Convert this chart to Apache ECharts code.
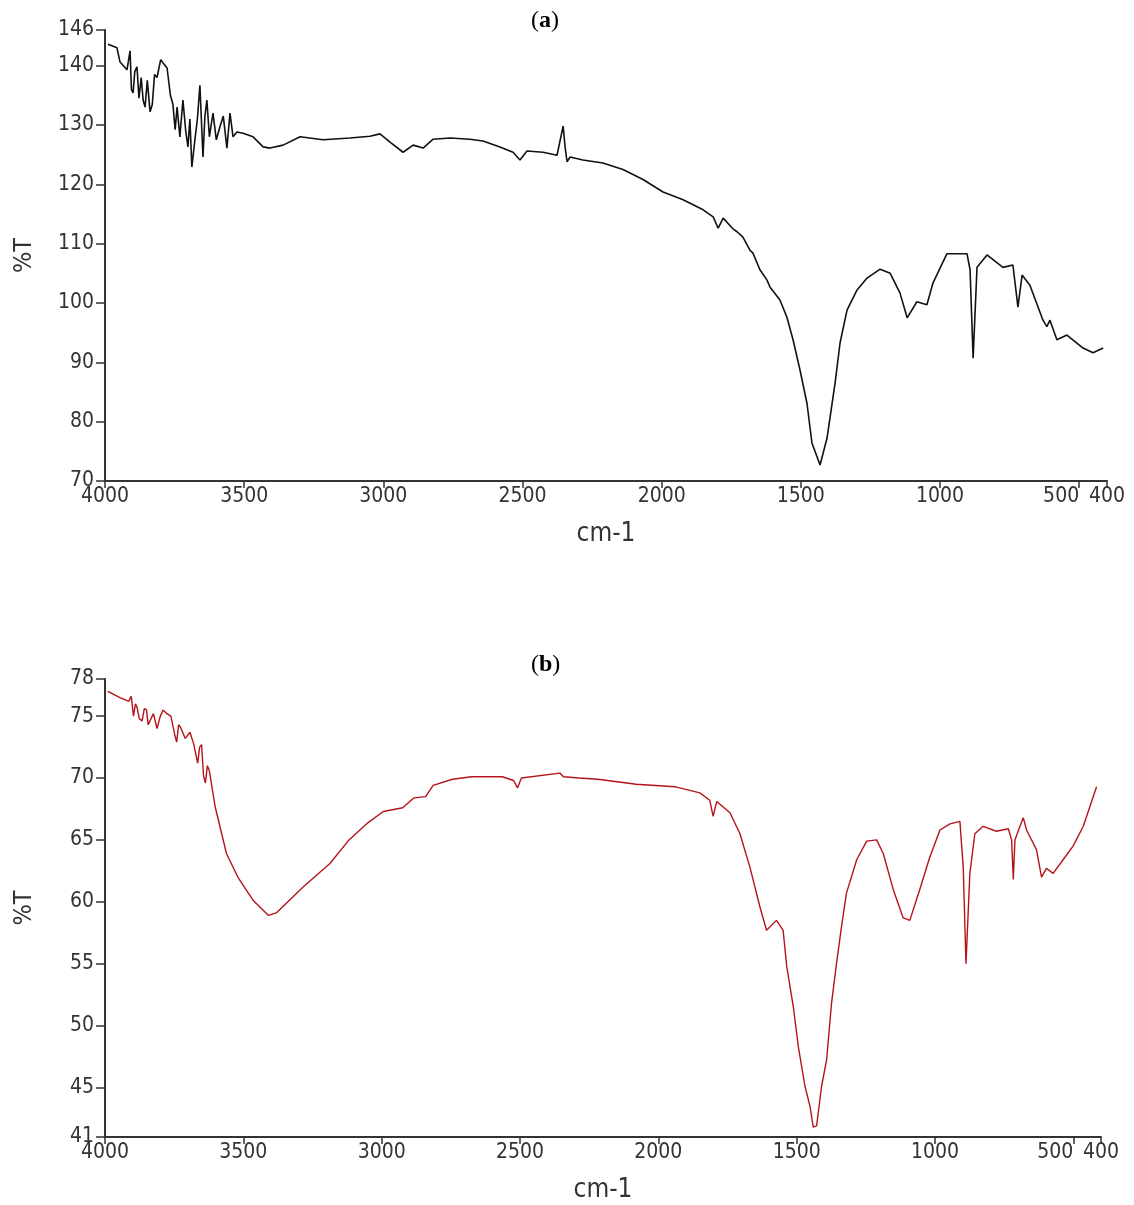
<!DOCTYPE html>
<html><head><meta charset="utf-8">
<script src="https://cdn.jsdelivr.net/npm/echarts@6/dist/echarts.min.js"></script>
<style>html,body{margin:0;padding:0;background:#fff}#c{width:1134px;height:1205px}</style>
</head><body><div id="c"></div>
<script>
// Panel (a) spectrum
var aWave = [3989,3957,3946,3921,3910,3905,3899,3893,3885,3878,3870,3863,3856,3848,3838,3830,3822,3813,3800,3792,3777,3765,3756,3748,3741,3731,3720,3710,3702,3695,3688,3677,3668,3659,3648,3641,3634,3625,3612,3600,3587,3575,3562,3551,3540,3526,3504,3468,3432,3407,3360,3299,3217,3120,3048,3012,2976,2929,2893,2857,2821,2760,2689,2642,2581,2534,2509,2484,2426,2376,2354,2347,2340,2329,2283,2211,2139,2067,1995,1923,1851,1815,1797,1779,1744,1729,1708,1683,1672,1647,1622,1611,1575,1550,1528,1503,1478,1460,1431,1406,1377,1359,1334,1298,1262,1215,1179,1144,1118,1083,1047,1025,975,903,892,881,867,831,774,738,720,705,677,630,616,605,580,544,486,450,414];
var aT = [143.6,143.0,140.6,139.3,142.5,136.0,135.4,139.0,139.8,134.5,138.0,134.2,133.0,137.5,132.2,133.5,138.5,138.0,141.0,140.5,139.6,135.0,133.5,129.2,133.0,128.0,134.2,129.0,126.3,131.0,122.9,127.5,131.0,136.7,124.6,131.5,134.2,128.0,132.0,127.5,129.7,131.5,126.1,132.0,128.0,128.8,128.6,128.0,126.3,126.1,126.6,128.0,127.5,127.8,128.1,128.5,127.1,125.4,126.6,126.1,127.6,127.8,127.6,127.3,126.3,125.4,124.1,125.6,125.4,124.9,129.8,126.3,123.8,124.6,124.1,123.6,122.5,120.8,118.7,117.4,115.7,114.5,112.6,114.3,112.5,112.0,111.1,108.9,108.4,105.6,103.9,102.7,100.5,97.6,93.8,88.7,83.1,76.4,72.7,77.2,86.5,93.3,98.8,102.2,104.2,105.7,105.0,101.7,97.5,100.2,99.7,103.4,108.3,108.3,105.6,90.7,106.0,108.1,106.0,106.4,99.3,104.7,103.0,97.1,96.0,97.1,93.8,94.6,92.4,91.6,92.4];

// Panel (b) spectrum
var bWave = [3990,3946,3914,3905,3897,3890,3884,3876,3866,3858,3850,3844,3838,3825,3812,3800,3790,3776,3762,3748,3741,3734,3727,3710,3693,3680,3665,3658,3651,3644,3637,3630,3623,3602,3561,3520,3464,3409,3381,3284,3187,3118,3049,2994,2924,2883,2841,2814,2744,2675,2564,2523,2509,2495,2356,2343,2287,2218,2080,1941,1850,1814,1802,1789,1741,1705,1669,1633,1609,1573,1549,1536,1512,1494,1470,1452,1440,1428,1410,1392,1374,1356,1338,1320,1283,1247,1211,1187,1151,1115,1091,1055,1019,982,946,910,898,888,874,856,826,778,735,723,717,711,693,681,669,633,615,597,573,537,501,464,440,416];
var bT = [77.0,76.5,76.2,76.6,75.0,76.0,75.7,74.8,74.6,75.6,75.5,74.3,74.4,75.2,74.0,75.0,75.5,75.2,75.0,73.5,72.9,74.3,74.1,73.2,73.7,72.8,71.2,72.5,72.7,70.2,69.6,71.0,70.6,67.7,63.9,62.0,60.1,58.9,59.1,61.2,63.1,65.0,66.4,67.3,67.6,68.4,68.5,69.4,69.9,70.1,70.1,69.8,69.2,70.0,70.4,70.1,70.0,69.9,69.5,69.3,68.8,68.2,66.9,68.1,67.2,65.5,62.8,59.6,57.7,58.5,57.7,54.8,51.5,48.3,45.1,43.5,41.8,41.9,45.1,47.2,51.8,55.0,58.0,60.7,63.4,64.9,65.0,63.9,61.0,58.7,58.5,61.0,63.6,65.8,66.3,66.5,62.8,55.0,62.3,65.5,66.1,65.7,65.9,65.0,61.8,65.0,66.1,66.8,65.8,64.2,62.0,62.7,62.3,63.4,64.5,66.1,67.7,69.3];

// Tick labels
var xTicks = [4000,3500,3000,2500,2000,1500,1000,400];
var xTicksExtra = [500];
var aYTicks = [70,80,90,100,110,120,130,140,146];
var bYTicks = [41,45,50,55,60,65,70,75,78];

function pairs(xs, ys){ return xs.map(function(x,i){ return [x, ys[i]]; }); }

var FONT = '"Liberation Sans Narrow", "DejaVu Sans Condensed", "Liberation Sans", Arial, sans-serif';
function labelStyle(ticks, margin, align){
  var s = {margin:margin, customValues:ticks, interval:0, fontFamily:FONT, fontSize:21, color:'#333',
          showMinLabel:true, showMaxLabel:true, hideOverlap:false,
          formatter:function(v){ return String(v); }};
  if (align) { s.align = align; }
  return s;
}
function xAx(gi, ticks, main){
  return {
    gridIndex: gi, type:'value', inverse:true, min:400, max:4000, position:'bottom', offset:0,
    name: main ? 'cm-1' : '', nameLocation:'middle', nameGap:40,
    nameTextStyle:{fontFamily:FONT, fontSize:26, color:'#333'},
    axisLine:{show:main, onZero:false, lineStyle:{color:'#333', width:2}},
    axisTick:{show:true, length:7, interval:0, lineStyle:{color:'#333', width:1.5}, customValues:ticks},
    axisLabel:labelStyle(ticks, 5, main ? null : 'right'),
    splitLine:{show:false}
  };
}
function yAx(gi, mn, mx, ticks){
  return {
    gridIndex: gi, type:'value', min:mn, max:mx,
    name:'%T', nameLocation:'middle', nameGap:68, nameRotate:90,
    nameTextStyle:{fontFamily:FONT, fontSize:25, color:'#333'},
    axisLine:{show:true, onZero:false, lineStyle:{color:'#333', width:2}},
    axisTick:{show:true, length:9, interval:0, lineStyle:{color:'#333', width:1.5}, customValues:ticks},
    axisLabel:labelStyle(ticks, 11, null),
    splitLine:{show:false}
  };
}

var chart = echarts.init(document.getElementById('c'), null, {renderer:'canvas'});
var titleRich = {
  p:{fontFamily:'"Liberation Serif", "Times New Roman", serif', fontSize:24, color:'#000', fontWeight:'normal'},
  b:{fontFamily:'"Liberation Serif", "Times New Roman", serif', fontSize:24, color:'#000', fontWeight:'bold'}
};
chart.setOption({
  animation:false,
  backgroundColor:'#fff',
  title:[
    {text:'{p|(}{b|a}{p|)}', left:526, top:4, textStyle:{fontSize:24, rich:titleRich}},
    {text:'{p|(}{b|b}{p|)}', left:526, top:648, textStyle:{fontSize:24, rich:titleRich}}
  ],
  grid:[
    {left:105, top:30, width:1002, height:451},
    {left:105, top:679, width:996, height:458}
  ],
  xAxis:[xAx(0, xTicks, true), xAx(1, xTicks, true), xAx(0, xTicksExtra, false), xAx(1, xTicksExtra, false)],
  yAxis:[yAx(0,70,146,aYTicks), yAx(1,41,78,bYTicks)],
  series:[
    {type:'line', xAxisIndex:0, yAxisIndex:0, data:pairs(aWave,aT), showSymbol:false, symbol:'none',
     lineStyle:{color:'#111', width:1.6}},
    {type:'line', xAxisIndex:1, yAxisIndex:1, data:pairs(bWave,bT), showSymbol:false, symbol:'none',
     lineStyle:{color:'#b5121b', width:1.4}}
  ]
});
</script>
</body></html>
